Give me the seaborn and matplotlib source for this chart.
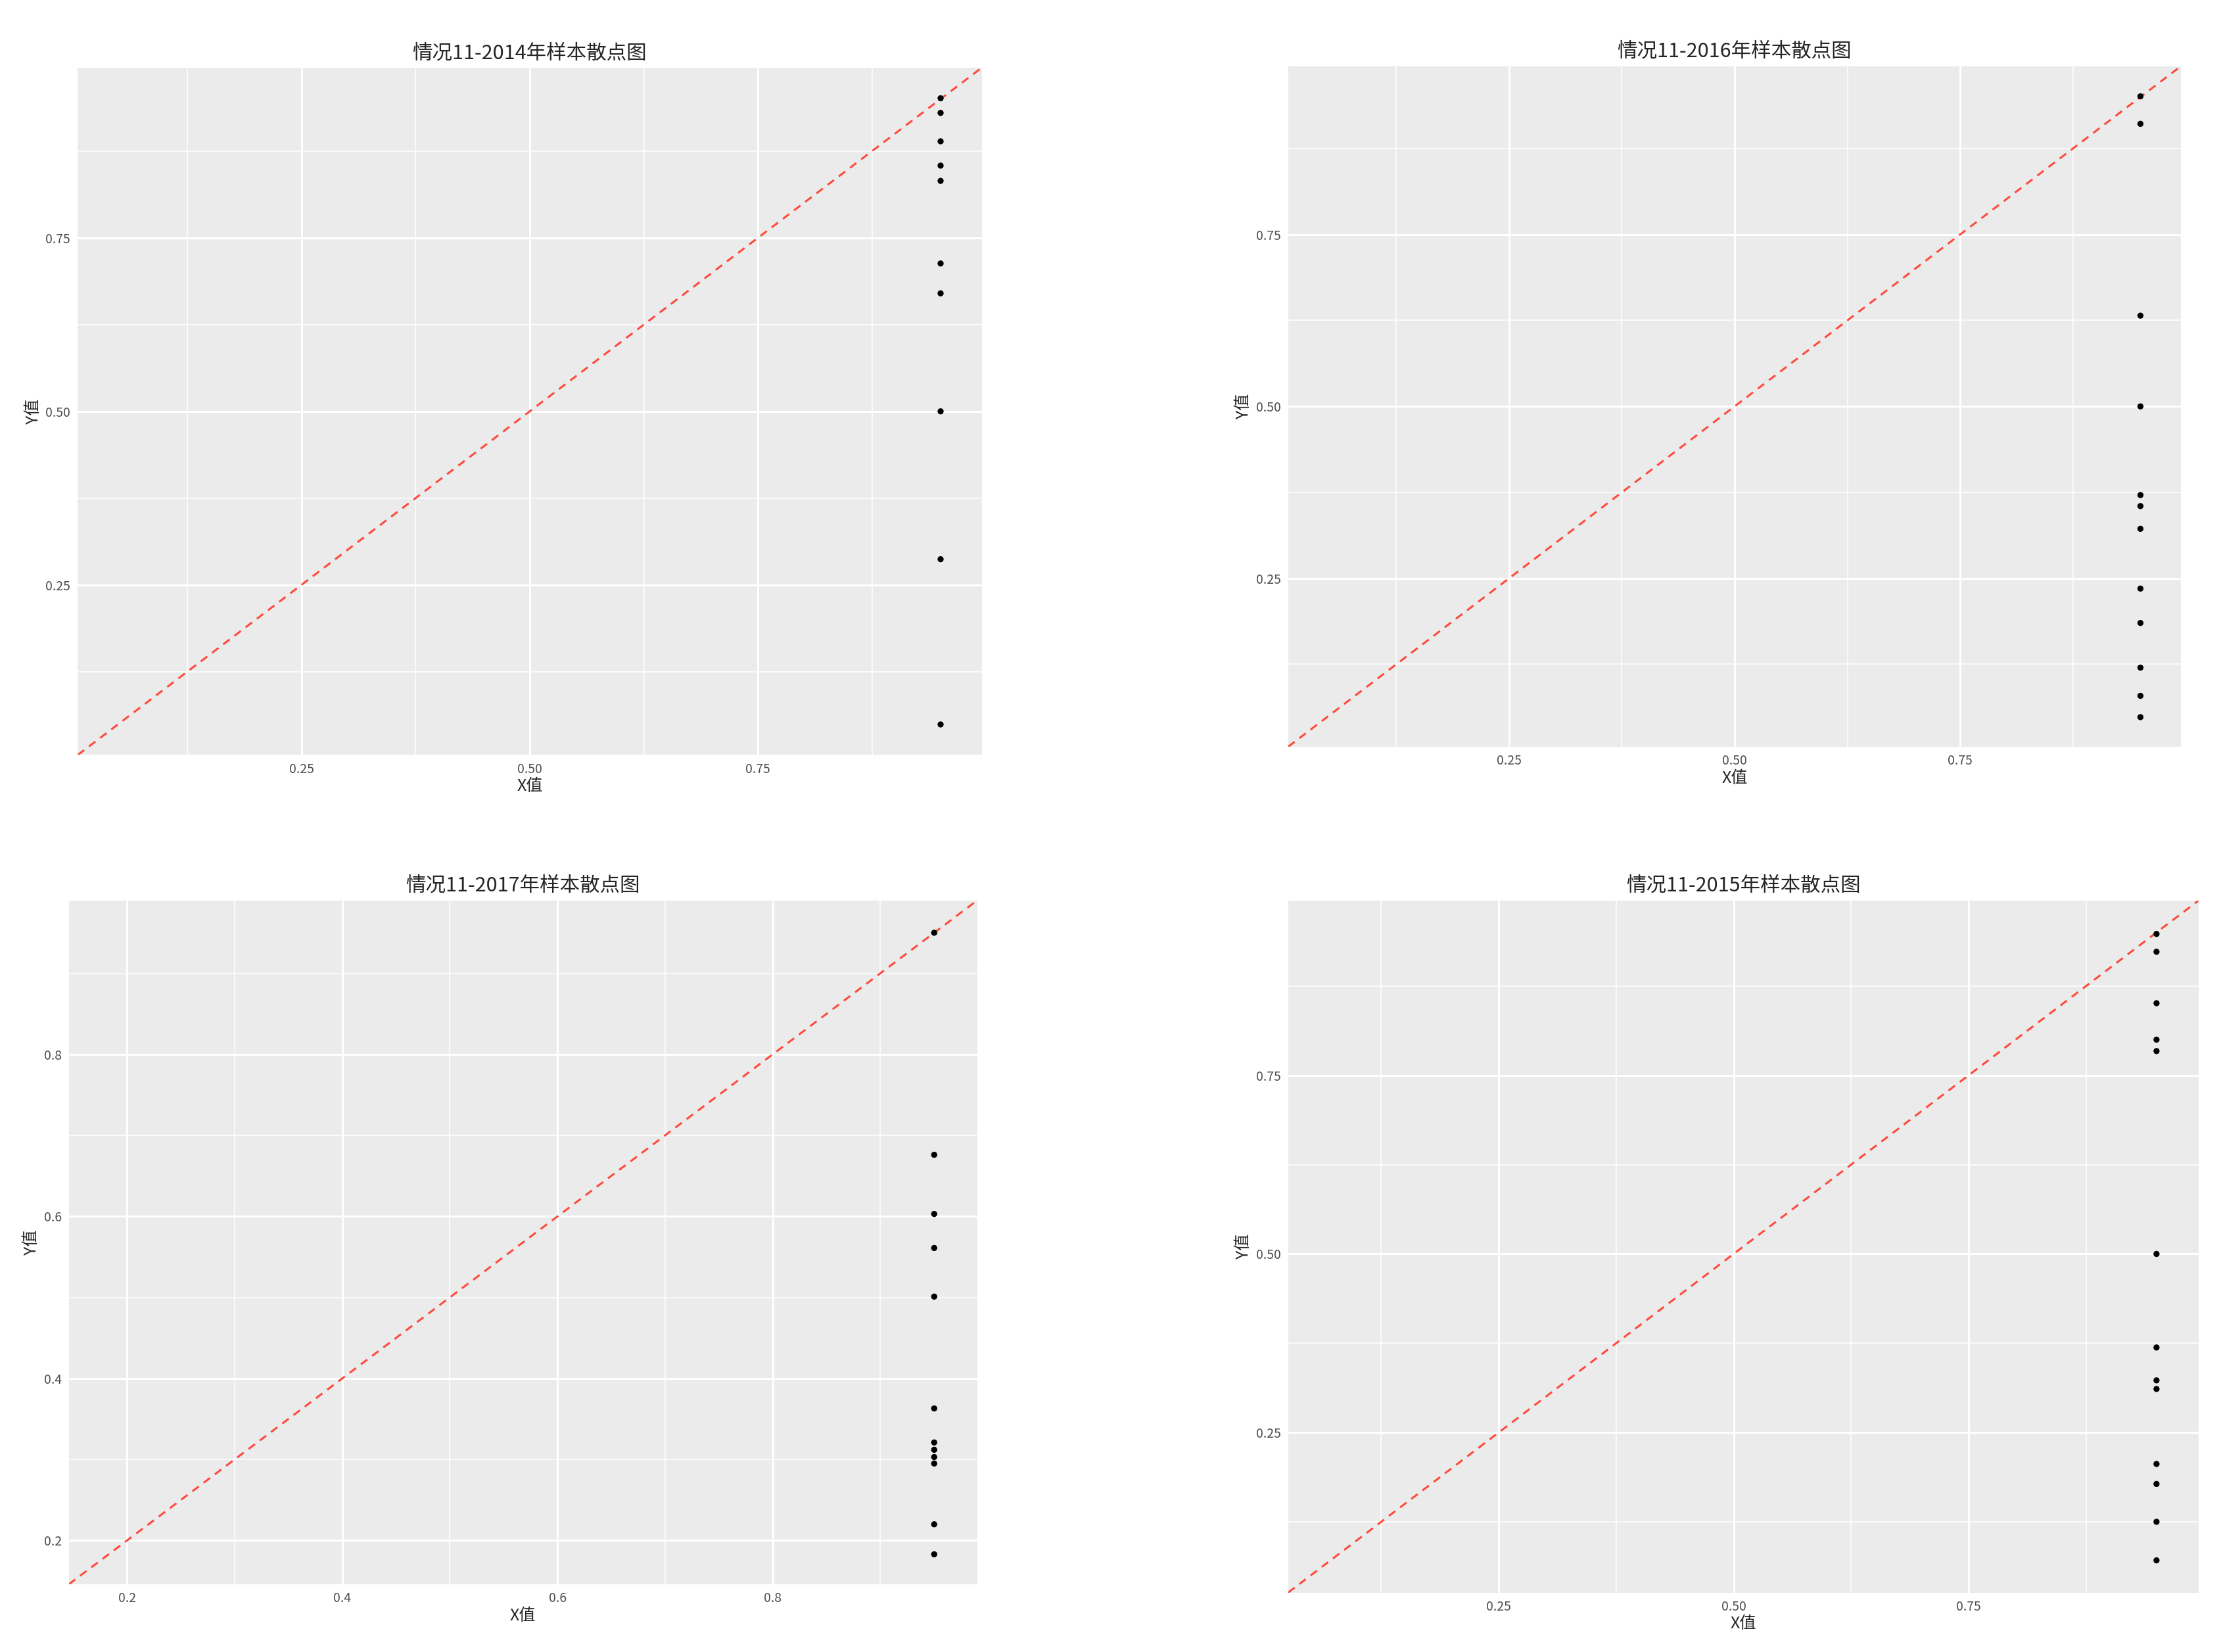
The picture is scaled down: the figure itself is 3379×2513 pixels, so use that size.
import matplotlib
matplotlib.use("Agg")
import matplotlib.pyplot as plt
import numpy as np
import pandas as pd
import seaborn as sns

sns.set_theme(style="darkgrid")
plt.rcParams['font.family'] = ['Noto Sans CJK SC', 'DejaVu Sans']

# values, one array per panel
y_2014 = [0.951, 0.930, 0.889, 0.854, 0.832, 0.713, 0.670, 0.500, 0.287, 0.049]
y_2016 = [0.951, 0.911, 0.632, 0.500, 0.371, 0.355, 0.322, 0.235, 0.185, 0.120, 0.079, 0.048]
y_2017 = [0.950, 0.676, 0.603, 0.561, 0.501, 0.363, 0.321, 0.312, 0.303, 0.295, 0.220, 0.183]
y_2015 = [0.948, 0.923, 0.851, 0.800, 0.784, 0.500, 0.369, 0.323, 0.311, 0.206, 0.178, 0.125, 0.071]
x_value = 0.95

titles = ['情况11-2014年样本散点图', '情况11-2016年样本散点图',
          '情况11-2017年样本散点图', '情况11-2015年样本散点图']
series = [y_2014, y_2016, y_2017, y_2015]
limits = [(0.005, 0.995), (0.005, 0.995), (0.146, 0.990), (0.026, 0.995)]
major = [[0.25, 0.5, 0.75], [0.25, 0.5, 0.75], [0.2, 0.4, 0.6, 0.8], [0.25, 0.5, 0.75]]
tick_labels = [['0.25', '0.50', '0.75'], ['0.25', '0.50', '0.75'],
               ['0.2', '0.4', '0.6', '0.8'], ['0.25', '0.50', '0.75']]
# [left, bottom, width, height] in figure fractions
positions = [[0.035, 0.543, 0.407, 0.416], [0.580, 0.548, 0.402, 0.412],
             [0.031, 0.041, 0.409, 0.414], [0.580, 0.036, 0.410, 0.419]]

fig = plt.figure(figsize=(33.79, 25.13), dpi=100)
for title, ys, lim, ticks, labels, pos in zip(titles, series, limits, major, tick_labels, positions):
    ax = fig.add_axes(pos)
    ax.set_facecolor('#EBEBEB')
    df = pd.DataFrame({'x': [x_value] * len(ys), 'y': ys})
    step = ticks[1] - ticks[0]
    minor = np.arange(ticks[0] - step / 2, lim[1], step)
    minor = minor[(minor > lim[0]) & (minor < lim[1])]
    ax.set_xticks(minor, minor=True)
    ax.set_yticks(minor, minor=True)
    ax.grid(which='major', color='white', linewidth=2.2)
    ax.grid(which='minor', color='white', linewidth=1.1)
    ax.plot([lim[0], lim[1]], [lim[0], lim[1]], linestyle=(0, (4, 3)), color='#FF4A3D', linewidth=2.2, zorder=2)
    sns.scatterplot(data=df, x='x', y='y', ax=ax, color='black', s=45, edgecolor='none', zorder=3)
    ax.set_xlim(lim)
    ax.set_ylim(lim)
    ax.set_xticks(ticks)
    ax.set_xticklabels(labels)
    ax.set_yticks(ticks)
    ax.set_yticklabels(labels)
    ax.tick_params(which='major', length=5, color='#333333', labelsize=14, labelcolor='#4D4D4D', pad=3)
    ax.tick_params(which='minor', length=0)
    for s in ax.spines.values():
        s.set_visible(False)
    ax.set_xlabel('X值', fontsize=18, labelpad=2)
    ax.set_ylabel('Y值', fontsize=18, labelpad=4)
    ax.set_title(title, fontsize=22, pad=10)

fig.savefig('out.png', dpi=100, facecolor='white')
